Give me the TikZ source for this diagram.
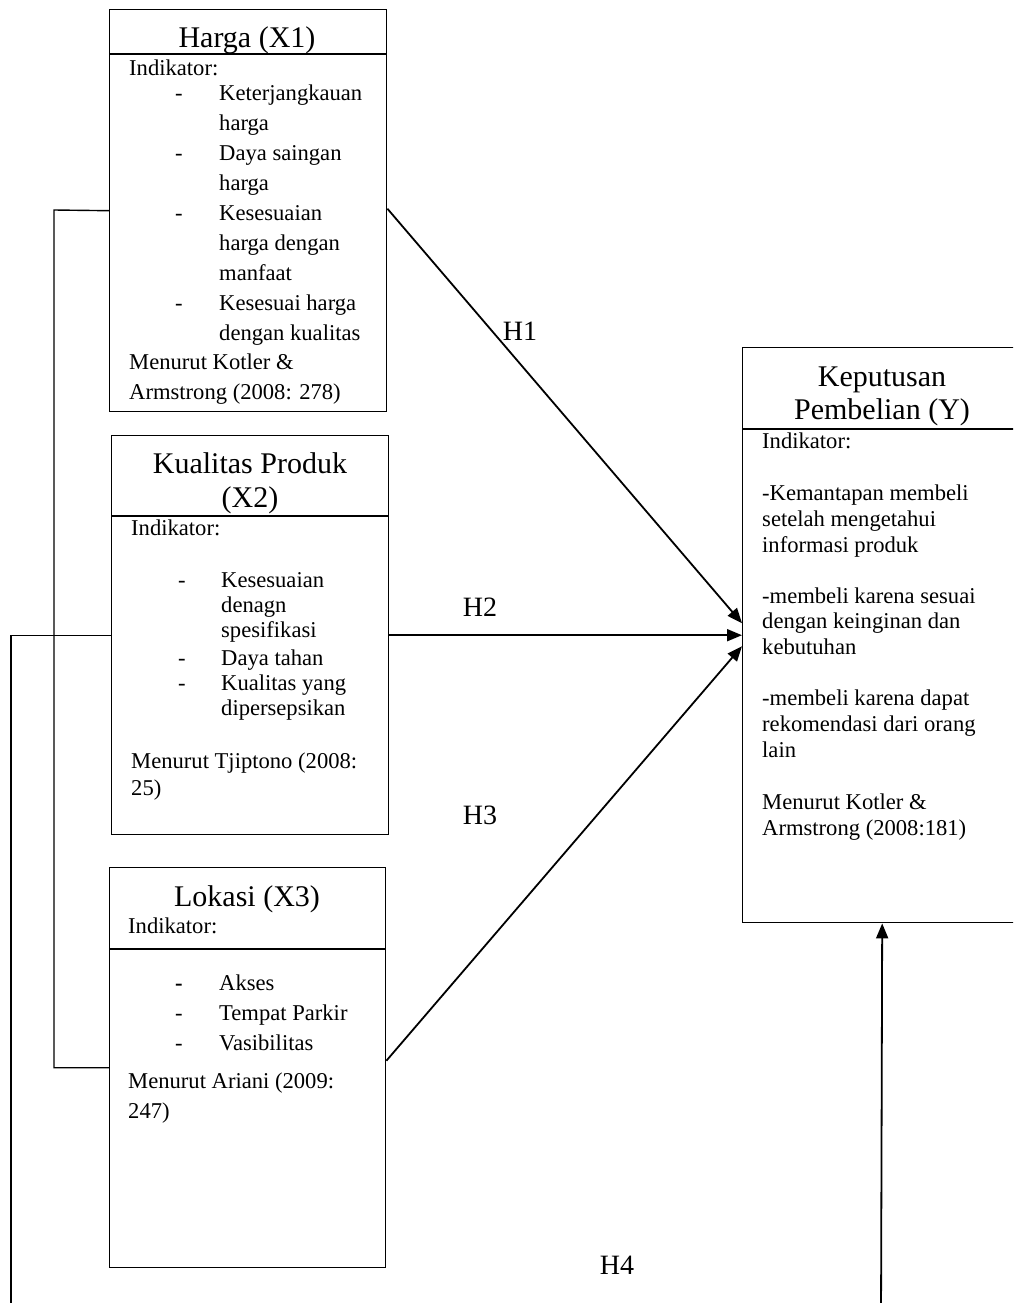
\documentclass[tikz,border=0pt]{standalone}
\usepackage{fontspec}
\setmainfont{Liberation Serif}
\usetikzlibrary{arrows.meta}
\tikzset{
  x=1pt, y=-1pt,
  box/.style={draw, line width=1.4pt, rectangle, inner sep=0pt, anchor=north west},
  sep/.style={line width=1.2pt},
  body/.style={font=\fontsize{22.6}{26}\selectfont, inner sep=0pt, anchor=base west},
  ttl/.style={font=\fontsize{30}{34}\selectfont, inner sep=0pt, anchor=base},
  hlab/.style={font=\fontsize{28}{32}\selectfont, inner sep=0pt},
  link/.style={line width=1.4pt},
  arr/.style={line width=1.8pt, -{Triangle[length=15pt,width=12pt]}}
}
\begin{document}
\begin{tikzpicture}
\clip (0,0) rectangle (1013,1303);
\useasboundingbox (0,0) rectangle (1013,1303);
\fill[white] (0,0) rectangle (1013,1303);

% ---------- boxes ----------
\node[box, minimum width=277pt, minimum height=402pt] (harga) at (109,9) {};
\node[box, minimum width=277pt, minimum height=399pt] (kual) at (111,435) {};
\node[box, minimum width=276pt, minimum height=400pt] (lok) at (109,867) {};
\node[box, minimum width=279pt, minimum height=575pt] (kep) at (742,347) {};

\draw[sep] (109,54) -- (386,54);
\draw[sep] (111,516) -- (388,516);
\draw[sep] (109,949) -- (385,949);
\draw[sep] (742,429) -- (1021,429);

% ---------- Harga ----------
\node[ttl] (t1) at (247,48) {Harga (X1)};
\node[body] (a0) at (129,76) {Indikator:};
\node[body] (a1d) at (175,101) {-};
\node[body] (a1) at (219,101) {Keterjangkauan};
\node[body] (a2) at (219,131) {harga};
\node[body] (a3d) at (175,160) {-};
\node[body] (a3) at (219,160) {Daya saingan};
\node[body] (a4) at (219,190) {harga};
\node[body] (a5d) at (175,220) {-};
\node[body] (a5) at (219,220) {Kesesuaian};
\node[body] (a6) at (219,250) {harga dengan};
\node[body] (a7) at (219,280) {manfaat};
\node[body] (a8d) at (175,310) {-};
\node[body] (a8) at (219,310) {Kesesuai harga};
\node[body] (a9) at (219,340) {dengan kualitas};
\node[body] (a10) at (129,369) {Menurut Kotler \&};
\begin{scope}
\clip (110,370) rectangle (385,404);
\node[body] (a11) at (129,399) {Armstrong (2008: 278)};
\end{scope}

% ---------- Kualitas Produk ----------
\node[ttl] (t2) at (250,473) {Kualitas Produk};
\node[ttl] (t2b) at (250,507) {(X2)};
\node[body] (b0) at (131,535) {Indikator:};
\node[body] (b1d) at (178,587) {-};
\node[body] (b1) at (221,587) {Kesesuaian};
\node[body] (b2) at (221,612) {denagn};
\node[body] (b3) at (221,637) {spesifikasi};
\node[body] (b4d) at (178,665) {-};
\node[body] (b4) at (221,665) {Daya tahan};
\node[body] (b5d) at (178,690) {-};
\node[body] (b5) at (221,690) {Kualitas yang};
\node[body] (b6) at (221,715) {dipersepsikan};
\node[body] (b7) at (131,768) {Menurut Tjiptono (2008:};
\node[body] (b8) at (131,795) {25)};

% ---------- Lokasi ----------
\node[ttl] (t3) at (247,906) {Lokasi (X3)};
\node[body] (c0) at (128,933) {Indikator:};
\node[body] (c1d) at (175,990) {\textbf{-}};
\node[body] (c1) at (219,990) {Akses};
\node[body] (c2d) at (175,1020) {-};
\node[body] (c2) at (219,1020) {Tempat Parkir};
\node[body] (c3d) at (175,1050) {-};
\node[body] (c3) at (219,1050) {Vasibilitas};
\node[body] (c4) at (128,1088) {Menurut Ariani (2009:};
\node[body] (c5) at (128,1118) {247)};

% ---------- Keputusan Pembelian ----------
\node[ttl] (t4) at (882,386) {Keputusan};
\node[ttl] (t4b) at (882,419) {Pembelian (Y)};
\node[body] (d0) at (762,448) {Indikator:};
\node[body] (d1) at (762,500) {-Kemantapan membeli};
\node[body] (d2) at (762,526) {setelah mengetahui};
\node[body] (d3) at (762,552) {informasi produk};
\node[body] (d4) at (762,603) {-membeli karena sesuai};
\node[body] (d5) at (762,628) {dengan keinginan dan};
\node[body] (d6) at (762,654) {kebutuhan};
\node[body] (d7) at (762,705) {-membeli karena dapat};
\node[body] (d8) at (762,731) {rekomendasi dari orang};
\node[body] (d9) at (762,757) {lain};
\node[body] (d10) at (762,809) {Menurut Kotler \&};
\node[body] (d11) at (762,835) {Armstrong (2008:181)};

% ---------- hypotheses ----------
\draw[arr] ([yshift=2pt]harga.east) -- ([yshift=12pt]kep.west);
\draw[arr] (kual.east) -- (kep.west);
\draw[arr] ([yshift=7pt]lok.east) -- ([yshift=-11pt]kep.west);

\node[hlab] (h1) at (520,331) {H1};
\node[hlab] (h2) at (480,607) {H2};
\node[hlab] (h3) at (480,815) {H3};
\node[hlab] (h4) at (617,1265) {H4};

% ---------- left brackets and H4 route ----------
\coordinate (lb) at (54,210);
\coordinate (ll) at (11,1320);
\coordinate (lr) at (881,1320);
\draw[link] (harga.west) -- (lb) |- (lok.west);
\draw[link] (kual.west) -- (ll |- kual.west) -- (ll);
\draw[arr] (lr) -- (kep.south);
\end{tikzpicture}
\end{document}
